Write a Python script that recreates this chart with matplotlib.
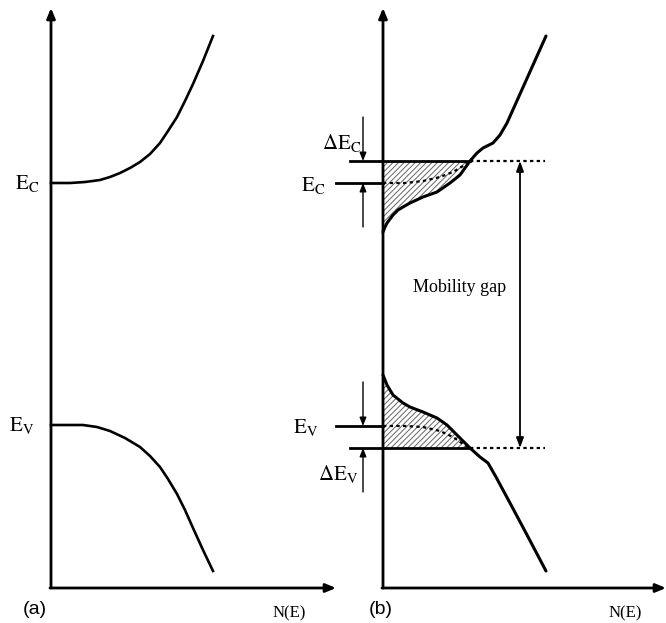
import matplotlib.pyplot as plt

plt.rcParams['mathtext.fontset'] = 'stix'
plt.rcParams['hatch.linewidth'] = 0.7

# Curves (pixel units, y grows downward)
# panel (a): ideal band edges
cb_a_x = [51, 70, 85, 100, 110, 120, 130, 140, 150, 160, 168, 177, 185, 193, 203, 213]
cb_a_y = [183, 183, 182, 180, 177, 173, 168, 162, 154, 143, 131, 117, 101, 84, 61, 36]
vb_a_x = [51, 70, 83, 97, 110, 125, 140, 150, 160, 168, 177, 185, 193, 203, 213]
vb_a_y = [425, 425, 425, 427, 431, 438, 447, 456, 467, 479, 494, 510, 528, 550, 571]

# panel (b): band edges with tail states
cb_b_x = [383, 385, 387, 390, 393, 398, 403, 410, 423, 437, 450, 460, 470, 477, 483, 493, 500, 507, 520, 533, 546]
cb_b_y = [232, 227, 223, 219, 215, 210, 207, 203, 197, 192, 183, 175, 161, 153, 148, 143, 135, 123, 94, 65, 36]
vb_b_x = [383, 385, 387, 390, 393, 398, 403, 410, 423, 437, 447, 457, 470, 480, 488, 496, 510, 526, 546]
vb_b_y = [375, 380, 385, 390, 395, 399, 403, 407, 412, 418, 425, 435, 448, 457, 463, 477, 503, 533, 571]

# extended-state edges (dotted) inside the tails
ec_dot_x = [383, 405, 423, 440, 453, 463, 470]
ec_dot_y = [183, 183, 181, 177, 172, 166, 161]
ev_dot_x = [383, 405, 423, 440, 453, 463, 470]
ev_dot_y = [426, 426, 427, 431, 437, 444, 448]

y_mob_c = 161
y_mob_v = 448
y_ec = 183
y_ev = 426

fig = plt.figure(figsize=(6.66, 6.23), dpi=100)
ax = fig.add_axes([0, 0, 1, 1])
ax.set_xlim(0, 666)
ax.set_ylim(623, 0)
ax.axis('off')

K = 'black'
axis_arrow = dict(arrowstyle='-|>,head_length=0.6,head_width=0.25', color=K, lw=2, shrinkA=0, shrinkB=0)
thin_arrow = dict(arrowstyle='-|>,head_length=0.5,head_width=0.2', color=K, lw=1, shrinkA=0, shrinkB=0)

# axes of both panels
for x0, x1 in [(51, 336), (383, 666)]:
    ax.annotate('', xy=(x0, 8), xytext=(x0, 588), arrowprops=axis_arrow)
    ax.annotate('', xy=(x1, 588), xytext=(x0 - 1, 588), arrowprops=axis_arrow)

# panel (a)
ax.plot(cb_a_x, cb_a_y, color=K, lw=1.9, solid_joinstyle='round')
ax.plot(vb_a_x, vb_a_y, color=K, lw=1.9, solid_joinstyle='round')
ax.text(27, 183, r'$\mathrm{E_C}$', fontsize=15, ha='center', va='center')
ax.text(22, 425, r'$\mathrm{E_V}$', fontsize=15, ha='center', va='center')

# panel (b): hatched tail states
i_c = cb_b_y.index(y_mob_c)
poly_cx = cb_b_x[:i_c + 1] + [383]
poly_cy = cb_b_y[:i_c + 1] + [y_mob_c]
ax.fill(poly_cx, poly_cy, facecolor='white', edgecolor='#666666', hatch='//////', lw=0)
i_v = vb_b_y.index(y_mob_v)
poly_vx = vb_b_x[:i_v + 1] + [383]
poly_vy = vb_b_y[:i_v + 1] + [y_mob_v]
ax.fill(poly_vx, poly_vy, facecolor='white', edgecolor='#666666', hatch='//////', lw=0)

ax.plot(cb_b_x, cb_b_y, color=K, lw=2.2, solid_joinstyle='round', solid_capstyle='round')
ax.plot(vb_b_x, vb_b_y, color=K, lw=2.2, solid_joinstyle='round', solid_capstyle='round')
ax.plot(ec_dot_x, ec_dot_y, color=K, lw=1.6, ls=(0, (1.5, 1.5)))
ax.plot(ev_dot_x, ev_dot_y, color=K, lw=1.6, ls=(0, (1.5, 1.5)))

# mobility edges and extended-state edges
ax.plot([350, 470], [y_mob_c, y_mob_c], color=K, lw=2)
ax.plot([470, 545], [y_mob_c, y_mob_c], color=K, lw=1.6, ls=(0, (1.5, 1.5)))
ax.plot([350, 470], [y_mob_v, y_mob_v], color=K, lw=2)
ax.plot([470, 545], [y_mob_v, y_mob_v], color=K, lw=1.6, ls=(0, (1.5, 1.5)))
ax.plot([336, 383], [y_ec, y_ec], color=K, lw=2)
ax.plot([336, 383], [y_ev, y_ev], color=K, lw=2)

# delta arrows
ax.annotate('', xy=(363, y_mob_c), xytext=(363, 117), arrowprops=thin_arrow)
ax.annotate('', xy=(363, y_ec), xytext=(363, 227), arrowprops=thin_arrow)
ax.annotate('', xy=(363, y_ev), xytext=(363, 382), arrowprops=thin_arrow)
ax.annotate('', xy=(363, y_mob_v), xytext=(363, 492), arrowprops=thin_arrow)

# mobility gap
ax.annotate('', xy=(520, y_mob_c), xytext=(520, y_mob_v),
            arrowprops=dict(arrowstyle='<|-|>,head_length=0.6,head_width=0.22', color=K, lw=1.3,
                            shrinkA=0, shrinkB=0))
ax.text(460, 287, 'Mobility gap', fontsize=13, family='Liberation Serif', ha='center', va='center')

ax.text(342, 143, r'$\mathrm{\Delta E_C}$', fontsize=15, ha='center', va='center')
ax.text(313, 185, r'$\mathrm{E_C}$', fontsize=15, ha='center', va='center')
ax.text(306, 428, r'$\mathrm{E_V}$', fontsize=15, ha='center', va='center')
ax.text(338, 474, r'$\mathrm{\Delta E_V}$', fontsize=15, ha='center', va='center')

# panel labels
ax.text(35, 610, '(a)', fontsize=14, family='Liberation Sans', ha='center', va='center')
ax.text(381, 610, '(b)', fontsize=14, family='Liberation Sans', ha='center', va='center')
ax.text(289, 613, 'N(E)', fontsize=12, family='Liberation Serif', ha='center', va='center')
ax.text(625, 613, 'N(E)', fontsize=12, family='Liberation Serif', ha='center', va='center')

fig.savefig('out.png', dpi=100, facecolor='white')
